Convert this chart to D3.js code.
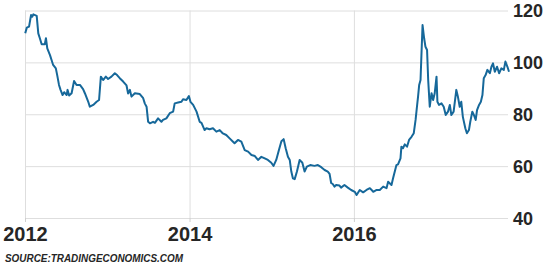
<!DOCTYPE html>
<html>
<head>
<meta charset="utf-8">
<script src="https://cdn.jsdelivr.net/npm/d3@7"></script>
<style>
  html, body { margin: 0; padding: 0; background: #fff; }
  svg { display: block; font-family: "Liberation Sans", Arial, sans-serif; }
  .grid line { stroke: #dedede; stroke-width: 1; }
  .grid .domain { display: none; }
  .xaxis line { stroke: #cfcfcf; }
  .xaxis .domain { display: none; }
  .xaxis text, .yaxis text { fill: #262626; font-weight: bold; }
  .yaxis .domain { display: none; }
  .yaxis line { stroke: #dedede; }
</style>
</head>
<body>
<div id="chart"></div>
<script>
// --- data ---
const dates = [
  "2012-01-02","2012-01-09","2012-01-19","2012-01-28","2012-02-02","2012-02-07","2012-02-22","2012-02-29",
  "2012-03-07","2012-03-15","2012-03-29","2012-04-03","2012-04-09","2012-04-21","2012-04-28","2012-05-05",
  "2012-05-17","2012-05-23","2012-05-31","2012-06-07","2012-06-16","2012-06-23","2012-07-04","2012-07-08",
  "2012-07-15","2012-07-26","2012-08-06","2012-08-17","2012-09-01","2012-09-15","2012-09-23","2012-10-08",
  "2012-10-15","2012-10-30","2012-11-14","2012-11-25","2012-12-03","2012-12-13","2012-12-25","2013-01-04",
  "2013-01-19","2013-02-03","2013-02-13","2013-02-25","2013-03-12","2013-03-27","2013-04-03","2013-04-11",
  "2013-04-18","2013-05-03","2013-05-25","2013-06-09","2013-06-16","2013-06-24","2013-07-01","2013-07-09",
  "2013-07-23","2013-07-31","2013-08-14","2013-08-29","2013-09-05","2013-09-20","2013-10-05","2013-10-20",
  "2013-10-27","2013-11-11","2013-11-26","2013-12-03","2013-12-18","2013-12-29","2014-01-05","2014-01-17",
  "2014-02-01","2014-02-15","2014-02-23","2014-03-09","2014-03-17","2014-03-31","2014-04-15","2014-04-30",
  "2014-05-15","2014-05-29","2014-06-13","2014-06-28","2014-07-13","2014-07-20","2014-08-04","2014-08-19",
  "2014-09-03","2014-09-18","2014-10-03","2014-10-18","2014-11-01","2014-11-16","2014-12-01","2014-12-15",
  "2014-12-30","2015-01-09","2015-01-21","2015-02-02","2015-02-13","2015-02-23","2015-03-04","2015-03-14",
  "2015-03-22","2015-03-29","2015-04-05","2015-04-13","2015-04-23","2015-05-05","2015-05-17","2015-05-27",
  "2015-06-06","2015-06-21","2015-07-10","2015-07-25","2015-08-09","2015-08-24","2015-09-07","2015-09-15",
  "2015-09-22","2015-09-29","2015-10-07","2015-10-14","2015-10-29","2015-11-05","2015-11-20","2015-12-05",
  "2015-12-20","2016-01-05","2016-01-13","2016-01-27","2016-02-11","2016-02-26","2016-03-12","2016-03-27",
  "2016-04-11","2016-04-25","2016-05-10","2016-05-25","2016-06-01","2016-06-16","2016-06-23","2016-07-08",
  "2016-07-15","2016-07-26","2016-07-30","2016-08-06","2016-08-14","2016-08-24","2016-09-02","2016-09-13",
  "2016-09-23","2016-10-01","2016-10-08","2016-10-12","2016-10-17","2016-10-23","2016-10-27","2016-11-01",
  "2016-11-08","2016-11-14","2016-11-21","2016-11-26","2016-12-03","2016-12-11","2016-12-18","2016-12-25",
  "2017-01-02","2017-01-06","2017-01-13","2017-01-24","2017-02-03","2017-02-12","2017-02-22","2017-03-02",
  "2017-03-09","2017-03-19","2017-03-31","2017-04-07","2017-04-15","2017-04-22","2017-04-29","2017-05-10",
  "2017-05-17","2017-05-26","2017-06-01","2017-06-10","2017-06-17","2017-06-25","2017-07-01","2017-07-10",
  "2017-07-18","2017-07-25","2017-07-31","2017-08-08","2017-08-16","2017-08-27","2017-09-03","2017-09-10",
  "2017-09-18","2017-09-28","2017-10-07","2017-10-17","2017-10-28","2017-11-04","2017-11-13","2017-11-20"
];
const values = [
  111.2,113.4,113.8,118.3,117.6,118.5,117.9,111.2,
  109.3,107.0,107.0,109.3,105.4,102.8,100.9,99.0,
  97.7,95.1,91.3,89.4,87.4,88.5,87.4,89.4,
  87.2,88.1,92.8,91.3,91.3,89.7,88.1,84.8,
  82.9,83.6,84.8,85.5,94.5,93.2,94.5,93.6,
  94.5,95.8,95.1,93.9,92.6,91.1,88.0,89.4,
  86.8,88.1,87.8,86.2,84.2,82.9,77.1,76.5,
  77.1,76.7,78.4,77.1,77.8,78.4,80.4,81.0,
  84.2,84.5,84.8,85.8,85.5,87.0,84.8,83.6,
  81.0,77.1,76.7,73.9,74.6,74.2,74.6,73.3,
  73.9,72.6,72.0,70.7,69.4,68.8,70.1,69.4,
  66.2,65.6,64.3,63.9,62.4,63.6,63.0,62.4,
  61.3,60.1,62.4,66.2,69.6,70.4,66.9,63.6,
  62.4,57.9,55.3,55.0,57.9,62.4,61.3,57.9,
  59.8,60.4,60.1,60.4,59.6,58.5,57.9,57.0,
  53.5,53.1,52.1,52.7,52.5,51.7,52.7,51.7,
  50.8,50.1,48.9,50.8,49.9,50.8,51.5,50.1,
  50.8,50.8,52.1,51.5,54.0,52.7,55.3,60.4,
  60.7,63.0,67.5,66.9,68.4,67.5,70.1,71.3,
  72.7,77.8,83.6,86.8,91.3,93.2,102.8,114.4,
  109.3,106.0,104.8,93.2,82.9,88.1,85.5,88.1,
  94.5,84.8,83.6,84.2,82.9,79.7,81.0,83.6,
  79.7,81.0,89.4,86.8,82.9,84.8,79.0,74.6,
  72.7,73.9,77.1,81.0,79.7,77.8,81.6,83.6,
  84.8,87.4,93.9,95.1,97.1,95.8,98.3,99.6,
  96.4,98.3,95.8,97.7,97.1,100.3,98.3,96.4
];
const yTicks = [40, 60, 80, 100, 120];
const xTickYears = ["2012-01-01", "2014-01-01", "2016-01-01"];
const xDomain = ["2012-01-01", "2017-11-20"];
const sourceLabel = "SOURCE:TRADINGECONOMICS.COM";

// --- layout ---
const W = 550, H = 268;
const plot = { left: 25, right: 509, top: 10.5, bottom: 218 };

const parse = d3.timeParse("%Y-%m-%d");
const data = dates.map((d, i) => ({ date: parse(d), value: values[i] }));

const x = d3.scaleTime()
  .domain(xDomain.map(parse))
  .range([plot.left, plot.right]);
const y = d3.scaleLinear()
  .domain([40, 120])
  .range([plot.bottom, plot.top]);

const svg = d3.select("#chart").append("svg")
  .attr("width", W)
  .attr("height", H);

// vertical grid lines at the labelled years
svg.append("g")
  .attr("class", "grid")
  .attr("transform", `translate(0,${plot.bottom})`)
  .call(d3.axisBottom(x)
    .tickValues(xTickYears.map(parse))
    .tickSize(-(plot.bottom - plot.top))
    .tickFormat(""));

// horizontal grid + right-hand labels
const yAxisG = svg.append("g")
  .attr("class", "yaxis")
  .attr("transform", `translate(${plot.right - 1},0)`)
  .call(d3.axisRight(y)
    .tickValues(yTicks)
    .tickSizeInner(-(plot.right - 1 - plot.left))
    .tickSizeOuter(0)
    .tickPadding(5));
yAxisG.selectAll("text")
  .attr("font-size", 18)
  .attr("dy", "0.36em");

// bottom ticks + year labels
const xAxisG = svg.append("g")
  .attr("class", "xaxis")
  .attr("transform", `translate(0,${plot.bottom})`)
  .call(d3.axisBottom(x)
    .tickValues(xTickYears.map(parse))
    .tickSize(4)
    .tickFormat(d3.timeFormat("%Y")));
xAxisG.selectAll("text")
  .attr("font-size", 20)
  .attr("y", 23)
  .attr("dy", 0);

// the series
const line = d3.line()
  .x(d => x(d.date))
  .y(d => y(d.value));

svg.append("path")
  .datum(data)
  .attr("fill", "none")
  .attr("stroke", "#16689a")
  .attr("stroke-width", 2)
  .attr("stroke-linejoin", "round")
  .attr("d", line);

// source note
svg.append("text")
  .attr("x", 5)
  .attr("y", 262)
  .attr("font-size", 11.5)
  .attr("font-weight", "bold")
  .attr("font-style", "italic")
  .attr("fill", "#262626")
  .attr("textLength", 178)
  .attr("lengthAdjust", "spacingAndGlyphs")
  .text(sourceLabel);
</script>
</body>
</html>
